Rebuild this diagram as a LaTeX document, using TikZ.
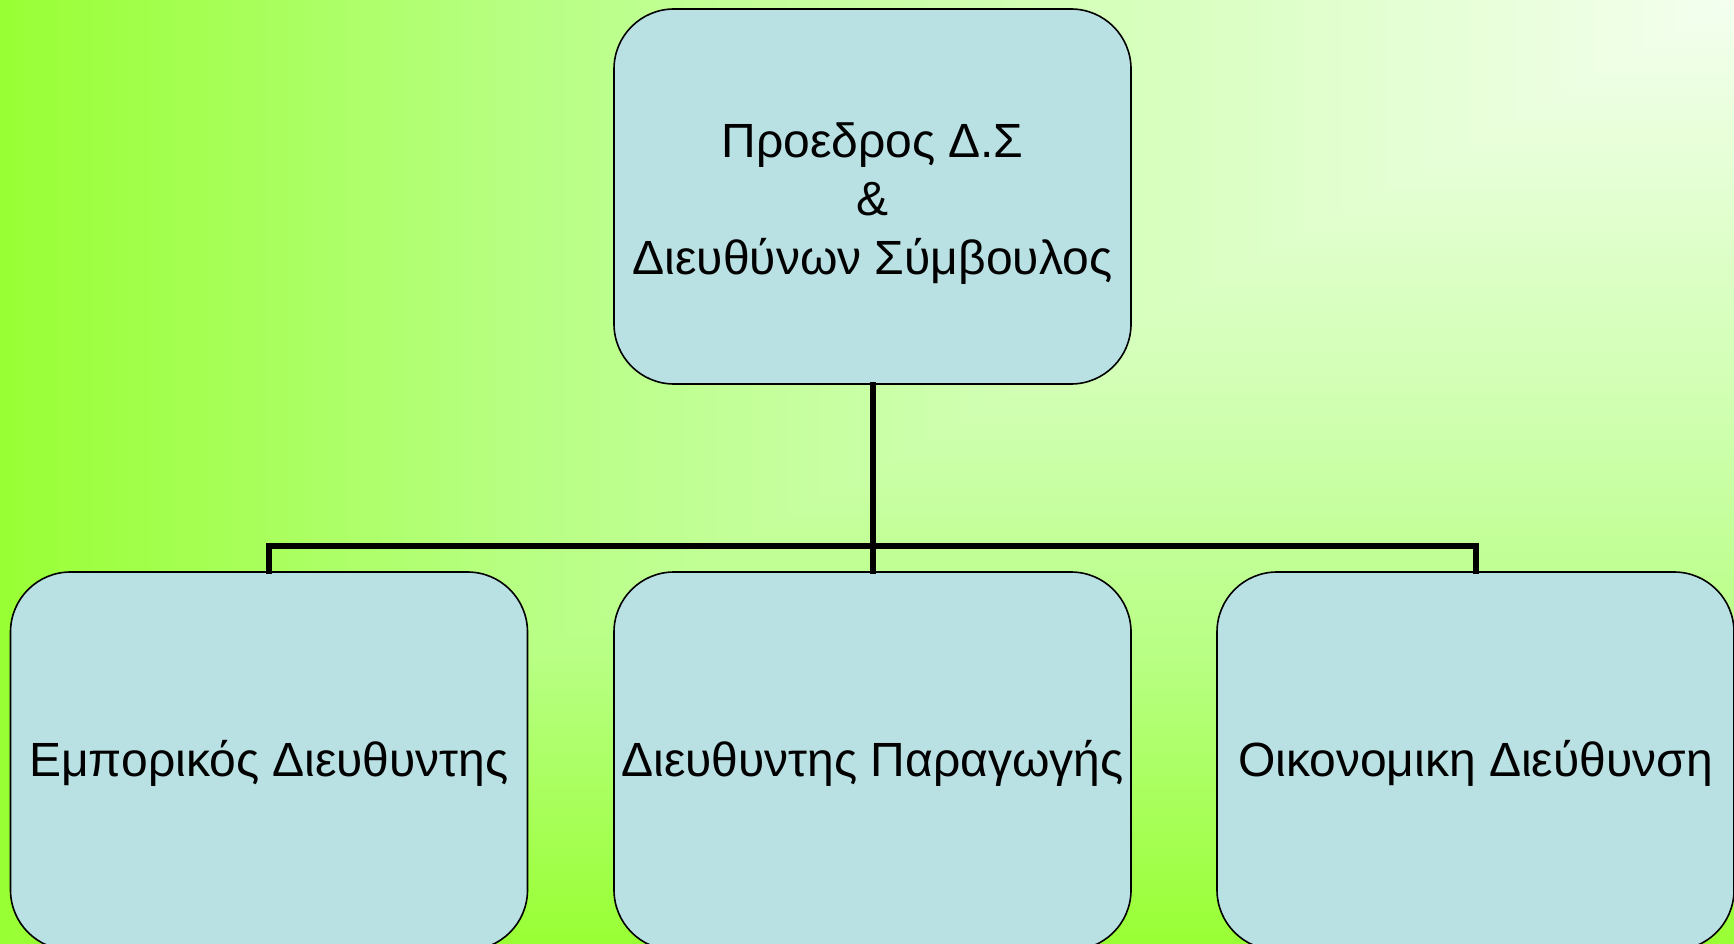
\documentclass[tikz,border=0pt]{standalone}
\usepackage{fontspec}
\setmainfont{Liberation Sans}
\definecolor{boxfill}{RGB}{185,224,227}
\tikzset{
  orgbox/.style={draw=black, line width=1.6pt, fill=boxfill, rounded corners=60pt,
    minimum width=517pt, align=center, inner sep=0pt, text=black},
  topbox/.style={orgbox, minimum height=375pt, font=\fontsize{48}{58.6}\selectfont},
  lowbox/.style={orgbox, minimum height=378pt, font=\fontsize{48}{56}\selectfont},
  conn/.style={draw=black, line width=6pt, line join=miter, line cap=rect}
}
\begin{document}
\begin{tikzpicture}[x=1pt,y=-1pt]
\useasboundingbox (0,0) rectangle (1734,944);
\clip (0,0) rectangle (1734,944);
% background rectangular gradient from the top-right corner
\foreach \i in {150,149,...,1}{
  \pgfmathsetmacro\t{\i/150}
  \ifdim\t pt<0.45pt
    \pgfmathsetmacro\s{\t/0.45}
    \pgfmathtruncatemacro\R{245+(207-245)*\s}
    \pgfmathtruncatemacro\B{240+(175-240)*\s}
  \else\ifdim\t pt<0.7pt
    \pgfmathsetmacro\s{(\t-0.45)/0.25}
    \pgfmathtruncatemacro\R{207+(184-207)*\s}
    \pgfmathtruncatemacro\B{175+(132-175)*\s}
  \else
    \pgfmathsetmacro\s{(\t-0.7)/0.3}
    \pgfmathtruncatemacro\R{184+(154-184)*\s}
    \pgfmathtruncatemacro\B{132+(54-132)*\s}
  \fi\fi
  \definecolor{bgc}{RGB}{\R,255,\B}
  \fill[bgc] ({1734-1734*\t},0) rectangle (1734,{944*\t});
}
\node[topbox] (top) at (872.5,196.5) {\raisebox{-7.5pt}[\height][\depth]{\begin{tabular}{@{}c@{}}Προεδρος Δ.Σ\\\&\\Διευθύνων Σύμβουλος\end{tabular}}};
\node[lowbox] (left) at (269,761) {\raisebox{-2.5pt}[\height][\depth]{Εμπορικός Διευθυντης}};
\node[lowbox] (mid) at (872.5,761) {\raisebox{-2.5pt}[\height][\depth]{Διευθυντης Παραγωγής}};
\node[lowbox] (right) at (1475.5,761) {\raisebox{-2.5pt}[\height][\depth]{Οικονομικη Διεύθυνση}};
\coordinate (bus) at (872.5,546);
\draw[conn] (top.south) -- (mid.north);
\draw[conn] (left.north) -- (left.north |- bus) -- (right.north |- bus) -- (right.north);
\end{tikzpicture}
\end{document}
